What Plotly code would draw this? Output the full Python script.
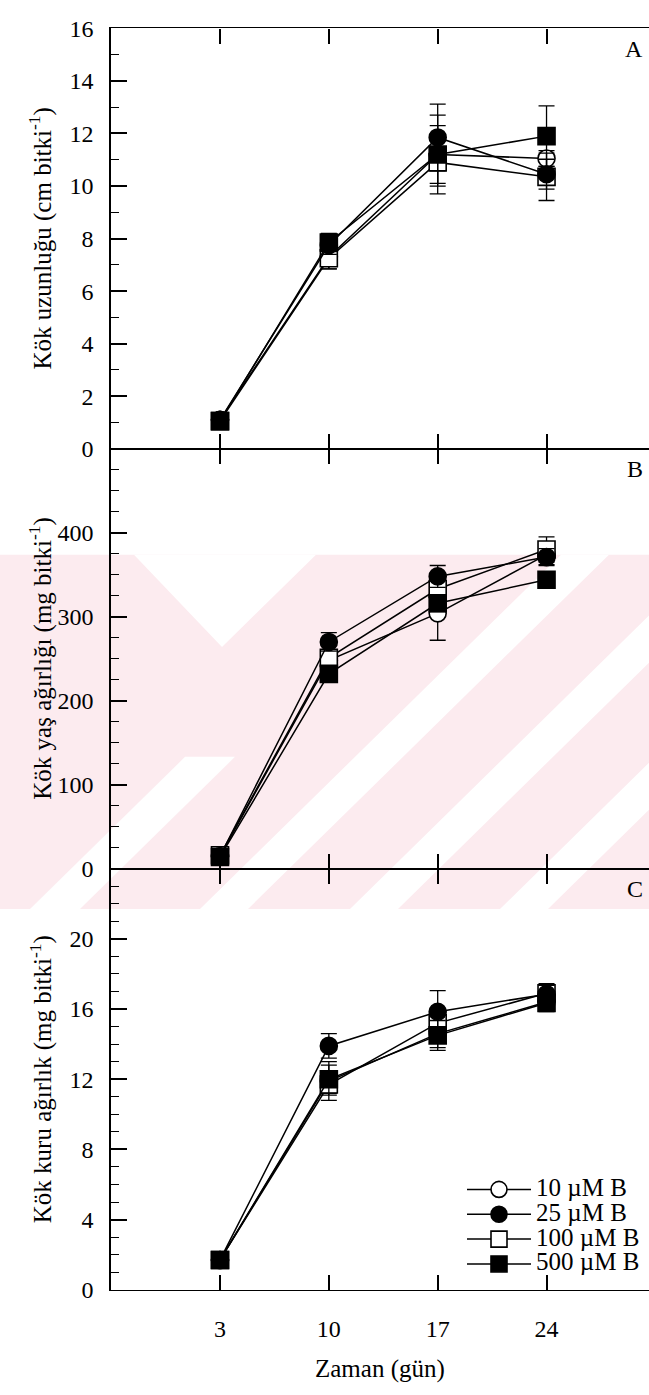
import plotly.graph_objects as go

# ---------------- data ----------------
days = [3, 10, 17, 24]
series_names = ["10 µM B", "25 µM B", "100 µM B", "500 µM B"]

# A: root length (cm plant-1)
len_10 = [1.10, 7.30, 11.20, 11.05]
len_25 = [1.10, 7.75, 11.85, 10.45]
len_100 = [1.05, 7.25, 10.90, 10.35]
len_500 = [1.05, 7.85, 11.20, 11.90]
len_10_err = [0.10, 0.45, 1.50, 0.30]
len_25_err = [0.10, 0.35, 1.27, 0.57]
len_100_err = [0.10, 0.40, 0.90, 0.90]
len_500_err = [0.10, 0.35, 1.10, 1.15]

# B: root fresh weight (mg plant-1)
fw_10 = [15, 248, 304, 374]
fw_25 = [15, 270, 348, 371]
fw_100 = [16, 251, 333, 380]
fw_500 = [14, 232, 316, 344]
fw_10_err = [3, 8, 32, 12]
fw_25_err = [3, 11, 13, 10]
fw_100_err = [3, 8, 12, 15]
fw_500_err = [3, 8, 10, 8]

# C: root dry weight (mg plant-1)
dw_10 = [1.7, 11.9, 14.6, 16.4]
dw_25 = [1.7, 13.9, 15.85, 16.85]
dw_100 = [1.7, 11.7, 15.2, 16.9]
dw_500 = [1.7, 12.0, 14.5, 16.35]
dw_10_err = [0.2, 1.1, 0.8, 0.5]
dw_25_err = [0.2, 0.7, 1.2, 0.5]
dw_100_err = [0.2, 0.6, 0.6, 0.55]
dw_500_err = [0.2, 0.8, 0.85, 0.5]

y_titles = [
    "Kök uzunluğu (cm bitki<sup>-1</sup>)",
    "Kök yaş ağırlığı (mg bitki<sup>-1</sup>)",
    "Kök kuru ağırlık (mg bitki<sup>-1</sup>)",
]
panel_letters = ["A", "B", "C"]
x_title = "Zaman (gün)"

# ---------------- page geometry ----------------
W, H = 649, 1395
FONT = "Liberation Serif"
TICK_SIZE = 24
TITLE_SIZE = 25
LEGEND_TEXT_SIZE = 25


def py(pix):
    """pixel row -> paper fraction"""
    return 1 - pix / H


def px(pix):
    return pix / W


panel_px = [(15.7, 444), (444, 872), (872, 1301)]  # top, bottom in pixels
x_left_px = 111
x_range = [-4.01, 30.59]
y_ranges = [[0, 16], [0, 500], [0, 24]]
y_major = [[0, 2, 4, 6, 8, 10, 12, 14, 16], [0, 100, 200, 300, 400], [0, 4, 8, 12, 16, 20]]
y_minor = [1, 25, 1]

panels = [
    ([len_10, len_25, len_100, len_500], [len_10_err, len_25_err, len_100_err, len_500_err]),
    ([fw_10, fw_25, fw_100, fw_500], [fw_10_err, fw_25_err, fw_100_err, fw_500_err]),
    ([dw_10, dw_25, dw_100, dw_500], [dw_10_err, dw_25_err, dw_100_err, dw_500_err]),
]

marker_styles = [
    dict(symbol="circle", color="white"),
    dict(symbol="circle", color="black"),
    dict(symbol="square", color="white"),
    dict(symbol="square", color="black"),
]
draw_order = [0, 2, 1, 3]

fig = go.Figure()

for p, (vals, errs) in enumerate(panels):
    xa = "x" if p == 0 else f"x{p + 1}"
    ya = "y" if p == 0 else f"y{p + 1}"
    for s in draw_order:
        st = marker_styles[s]
        fig.add_trace(go.Scatter(
            x=days, y=vals[s], xaxis=xa, yaxis=ya,
            mode="lines+markers",
            name=f'<span style="font-size:{LEGEND_TEXT_SIZE}px">{series_names[s]}</span>',
            legendrank=s + 1,
            showlegend=(p == 2),
            line=dict(color="black", width=1.5),
            marker=dict(symbol=st["symbol"], size=17, color=st["color"],
                        line=dict(color="black", width=1.6)),
            error_y=dict(type="data", array=errs[s], visible=True,
                         color="black", thickness=1.3, width=8),
            cliponaxis=False,
        ))

layout = dict(
    width=W, height=H,
    margin=dict(l=0, r=0, t=0, b=0),
    paper_bgcolor="white",
    plot_bgcolor="rgba(0,0,0,0)",
    font=dict(family=FONT, size=TICK_SIZE, color="black"),
    showlegend=True,
    legend=dict(
        x=px(462), y=py(1181), xanchor="left", yanchor="top",
        bgcolor="rgba(0,0,0,0)", borderwidth=0,
        font=dict(family=FONT, size=16.8, color="black"),
        itemwidth=64, tracegroupgap=0, traceorder="normal",
    ),
)

for p in range(3):
    top, bot = panel_px[p]
    key = "" if p == 0 else str(p + 1)
    layout["xaxis" + key] = dict(
        domain=[px(x_left_px), 1.0],
        anchor="y" + key,
        range=x_range,
        tickvals=days, ticktext=[str(d) for d in days],
        showticklabels=(p == 2),
        ticks="inside", ticklen=15, tickwidth=1.5, tickcolor="black",
        showline=True, linecolor="black", linewidth=1.4, mirror="ticks",
        showgrid=False, zeroline=False,
        ticklabelstandoff=17,
        tickfont=dict(family=FONT, size=TICK_SIZE, color="black"),
    )
    layout["yaxis" + key] = dict(
        domain=[py(bot), py(top)],
        anchor="x" + key,
        range=y_ranges[p],
        tickvals=y_major[p],
        ticks="inside", ticklen=16, tickwidth=1.5, tickcolor="black",
        minor=dict(ticks="inside", ticklen=8, dtick=y_minor[p], tick0=0,
                   tickwidth=1.3, tickcolor="black", showgrid=False),
        showline=True, linecolor="black", linewidth=1.5,
        showgrid=False, zeroline=False,
        ticklabelstandoff=11,
        tickfont=dict(family=FONT, size=TICK_SIZE, color="black"),
    )

fig.update_layout(**layout)

# axis titles and panel letters
ann = []
for p in range(3):
    top, bot = panel_px[p]
    ann.append(dict(
        text=y_titles[p], x=px(41), y=py((top + bot) / 2),
        xref="paper", yref="paper", xanchor="center", yanchor="middle",
        textangle=-90, showarrow=False,
        font=dict(family=FONT, size=TITLE_SIZE, color="black"),
    ))
    ann.append(dict(
        text=panel_letters[p], x=px(645), y=py(top + 21),
        xref="paper", yref="paper", xanchor="right", yanchor="middle",
        showarrow=False, font=dict(family=FONT, size=TICK_SIZE, color="black"),
    ))
ann.append(dict(
    text=x_title, x=px(380), y=py(1382), xref="paper", yref="paper",
    xanchor="center", yanchor="middle", showarrow=False,
    font=dict(family=FONT, size=TITLE_SIZE, color="black"),
))
fig.update_layout(annotations=ann)

# faint pink background band with diagonal white stripes
band_top, band_bot = 552, 913
wm_pink = "#fcebef"
wm_white_polys = [
    [(134, 552), (316, 552), (222, 646)],
    [(200, 913), (248, 913), (609, 552), (561, 552)],
    [(350, 913), (398, 913), (759, 552), (711, 552)],
    [(500, 913), (548, 913), (909, 552), (861, 552)],
    [(30, 913), (80, 913), (235, 758), (185, 758)],
]


def poly_path(pts):
    return "M " + " L ".join(f"{px(a):.5f},{py(b):.5f}" for a, b in pts) + " Z"


shapes = [dict(type="rect", xref="paper", yref="paper", layer="below",
               x0=0, x1=1, y0=py(band_bot), y1=py(band_top),
               fillcolor=wm_pink, line=dict(width=0))]
for poly in wm_white_polys:
    shapes.append(dict(type="path", xref="paper", yref="paper", layer="below",
                       path=poly_path(poly), fillcolor="white", line=dict(width=0)))
fig.update_layout(shapes=shapes)

fig.write_html("out.html")
